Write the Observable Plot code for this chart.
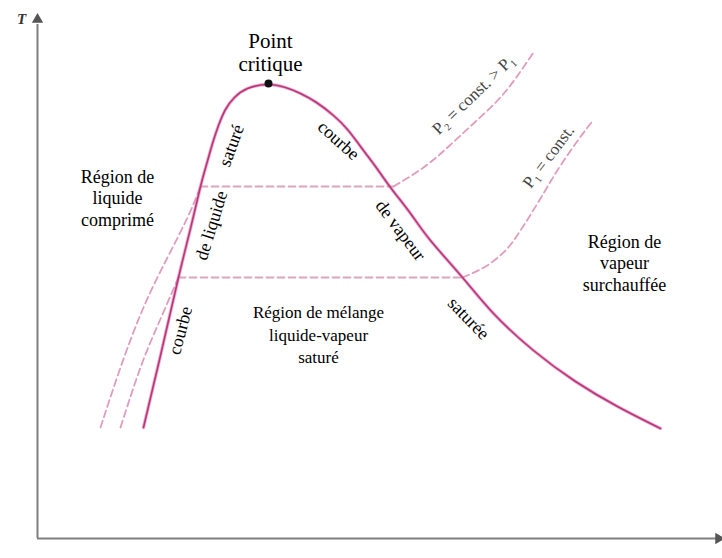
<!DOCTYPE html>
<html><head><meta charset="utf-8">
<script src="https://cdn.jsdelivr.net/npm/d3@7"></script>
<script src="https://cdn.jsdelivr.net/npm/@observablehq/plot@0.6"></script>
<style>body{margin:0;background:#fff} svg{display:block} svg text{font-family:"Liberation Serif","DejaVu Serif",serif !important}</style>
</head><body><div id="chart"></div>
<script>
// Saturation dome (v, T in arbitrary units)
const domeV = [106,123,141,153,163,169,175,181,188,197,210,230,248,263,279,296,310,323,338,353,373,393,425,456,496,538,580,623];
const domeT = [111,183,261,310,352,374,395,413,429,441,450,454,451,445,436,423,409,392,372,351,325,298,261,225,188,157,132,110];
const critical = {v: 231, T: 455};

// Isobar P2 (higher pressure)
const p2LiqV = [63,83,106,130,150,163];
const p2LiqT = [111,171,231,281,321,352];
const p2MixV = [163,356];
const p2MixT = [352,352];
const p2VapV = [356,386,410,435,460,478,496];
const p2VapT = [352,371,391,414,438,460,486];

// Isobar P1
const p1LiqV = [83,103,121,141];
const p1LiqT = [111,171,215,261];
const p1MixV = [141,425];
const p1MixT = [261,261];
const p1VapV = [425,448,468,483,503,525,550,556];
const p1VapT = [261,272,288,308,340,376,411,418];

// Labels
const regionText = ["Région de\nliquide\ncomprimé", "Région de mélange\nliquide-vapeur\nsaturé", "Région de\nvapeur\nsurchauffée"];
const regionV = [80, 281, 587];
const regionT = [341, 205, 276];

const curveText = ["saturé", "de liquide", "courbe", "courbe", "de vapeur", "saturée"];
const curveV = [194, 174, 143, 301, 363, 431];
const curveT = [393, 313, 208, 398, 308, 220];
const curveRot = [-70, -73, -75, 42, 53, 46];

const isoText = ["P\u2082 = const. > P\u2081", "P\u2081 = const."];
const isoV = [436, 511];
const isoT = [444, 382];
const isoRot = [-44, -53];

const zipVT = (vs, ts, seg) => vs.map((v, i) => ({v, T: ts[i], seg}));
const dome = zipVT(domeV, domeT, "dome");
const isoCurves = [
  ...zipVT(p2LiqV, p2LiqT, "p2l"), ...zipVT(p2VapV, p2VapT, "p2v"),
  ...zipVT(p1LiqV, p1LiqT, "p1l"), ...zipVT(p1VapV, p1VapT, "p1v")
];
const isoFlat = [...zipVT(p2MixV, p2MixT, "p2m"), ...zipVT(p1MixV, p1MixT, "p1m")];

const regions = regionText.map((t, i) => ({t, v: regionV[i], T: regionT[i]}));
const curveLabels = curveText.map((t, i) => ({t, v: curveV[i], T: curveT[i], r: curveRot[i]}));
const isoLabels = isoText.map((t, i) => ({t, v: isoV[i], T: isoT[i], r: isoRot[i]}));

const font = "Liberation Serif";
const dashColor = "#e09cbc";

const chart = Plot.plot({
  width: 722, height: 558,
  marginTop: 0, marginRight: 0, marginBottom: 0, marginLeft: 0,
  x: {domain: [-37, 685], axis: null},
  y: {domain: [-20, 538], axis: null},
  style: {background: "#fff", fontFamily: "Liberation Serif"},
  marks: [
    Plot.ruleX([0], {y1: 0, y2: 514, stroke: "#808080", strokeWidth: 2}),
    Plot.ruleY([0], {x1: 0, x2: 679, stroke: "#808080", strokeWidth: 2}),
    Plot.dot([{v: 0, T: 519}], {x: "v", y: "T", symbol: "triangle", r: 4.2, fill: "#555", stroke: "none"}),
    Plot.dot([{v: 681, T: 0}], {x: "v", y: "T", symbol: "triangle", r: 4.2, fill: "#555", stroke: "none", rotate: 90}),
    Plot.text([{v: -16, T: 519}], {x: "v", y: "T", text: () => "T", fontFamily: font, fontSize: 15, fontStyle: "italic", fontWeight: "bold", fill: "#333"}),
    Plot.line(isoFlat, {x: "v", y: "T", z: "seg", stroke: "#d9a7bd", strokeWidth: 1.8, strokeDasharray: "7,4"}),
    Plot.line(isoCurves, {x: "v", y: "T", z: "seg", curve: "natural", stroke: dashColor, strokeWidth: 1.8, strokeDasharray: "7,4"}),
    Plot.line(dome, {x: "v", y: "T", curve: "natural", stroke: "#e07aad", strokeWidth: 3.4, strokeOpacity: 0.6}),
    Plot.line(dome, {x: "v", y: "T", curve: "natural", stroke: "#b8357a", strokeWidth: 1.6}),
    Plot.dot([critical], {x: "v", y: "T", r: 4, fill: "#111", stroke: "none"}),
    Plot.text([{v: 233, T: 486}], {x: "v", y: "T", text: () => "Point\ncritique", fontFamily: font, fontSize: 21, lineHeight: 1.1, fill: "#000"}),
    Plot.text(regions.filter((d, i) => i !== 1), {x: "v", y: "T", text: "t", fontFamily: font, fontSize: 18, lineHeight: 1.18, fill: "#000"}),
    Plot.text(regions.filter((d, i) => i === 1), {x: "v", y: "T", text: "t", fontFamily: font, fontSize: 17, lineHeight: 1.3, fill: "#000"}),
    Plot.text(curveLabels, {x: "v", y: "T", text: "t", rotate: "r", fontFamily: font, fontSize: 18, fill: "#000"}),
    Plot.text(isoLabels, {x: "v", y: "T", text: "t", rotate: "r", fontFamily: font, fontSize: 17, fill: "#444"})
  ]
});
document.getElementById("chart").append(chart);
</script>
</body></html>
